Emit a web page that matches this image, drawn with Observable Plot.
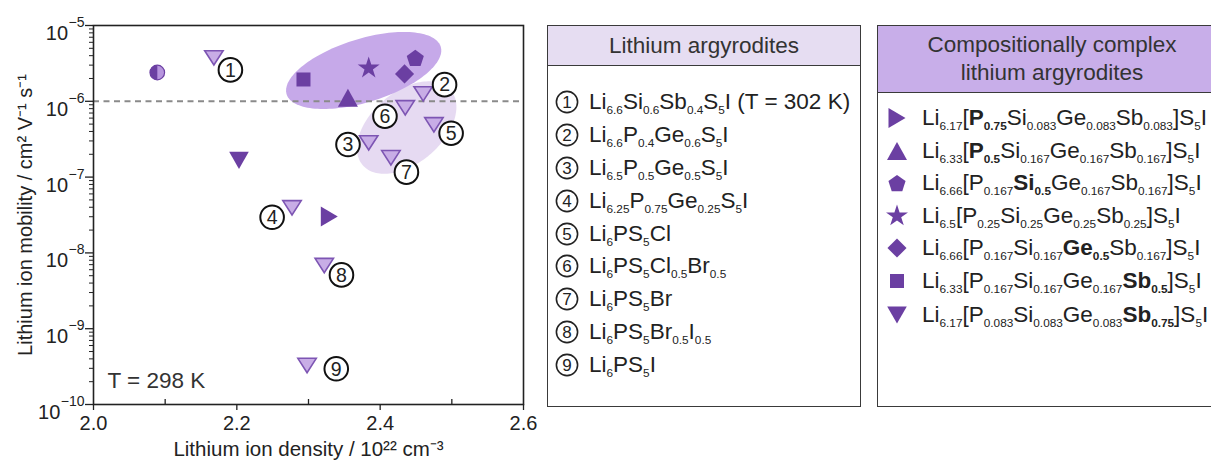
<!DOCTYPE html>
<html><head><meta charset="utf-8">
<script src="https://cdn.jsdelivr.net/npm/d3@7"></script>
<script src="https://cdn.jsdelivr.net/npm/@observablehq/plot@0.6"></script>
<style>
html,body{margin:0;padding:0;background:#fff;}
#wrap{position:relative;width:1211px;height:466px;overflow:hidden;font-family:"Liberation Sans",Arial,sans-serif;color:#222;}
#chart{position:absolute;left:0;top:0;}
.box{position:absolute;border:1.5px solid #3a3a3a;box-sizing:border-box;background:#fff;}
.hdr{position:absolute;box-sizing:border-box;border:1.5px solid #3a3a3a;display:flex;align-items:center;justify-content:center;text-align:center;font-size:22.5px;color:#333;line-height:28px;}
.row{position:absolute;white-space:nowrap;font-size:22.5px;line-height:26px;height:26px;color:#222;}
.row sub{font-size:11.8px;vertical-align:baseline;position:relative;top:5px;line-height:0;}
.sym{position:absolute;overflow:visible;}
</style></head>
<body><div id="wrap"><div id="chart"></div></div>
<script>
// ---------- data ----------
const argyroditeNumbers = [1,2,3,4,5,6,7,8,9];
const argyroditeDensity = [2.168, 2.460, 2.384, 2.277, 2.475, 2.435, 2.415, 2.322, 2.298];
const argyroditeMobility = [3.74e-6, 1.25e-6, 2.83e-7, 3.93e-8, 4.9e-7, 8.2e-7, 1.8e-7, 6.8e-9, 3.27e-10];
const argyroditeNames = [
  "Li_{6.6}Si_{0.6}Sb_{0.4}S_{5}I (T = 302 K)",
  "Li_{6.6}P_{0.4}Ge_{0.6}S_{5}I",
  "Li_{6.5}P_{0.5}Ge_{0.5}S_{5}I",
  "Li_{6.25}P_{0.75}Ge_{0.25}S_{5}I",
  "Li_{6}PS_{5}Cl",
  "Li_{6}PS_{5}Cl_{0.5}Br_{0.5}",
  "Li_{6}PS_{5}Br",
  "Li_{6}PS_{5}Br_{0.5}I_{0.5}",
  "Li_{6}PS_{5}I"
];

const complexShapes = ["triRight","triUp","pentagon","star","diamond","square","triDown"];
const complexDensity = [2.329, 2.355, 2.449, 2.384, 2.434, 2.293, 2.203];
const complexMobility = [3.02e-8, 1.11e-6, 3.74e-6, 2.74e-6, 2.30e-6, 1.94e-6, 1.66e-7];
const complexNames = [
  "Li_{6.17}[*P_{0.75}*Si_{0.083}Ge_{0.083}Sb_{0.083}]S_{5}I",
  "Li_{6.33}[*P_{0.5}*Si_{0.167}Ge_{0.167}Sb_{0.167}]S_{5}I",
  "Li_{6.66}[P_{0.167}*Si_{0.5}*Ge_{0.167}Sb_{0.167}]S_{5}I",
  "Li_{6.5}[P_{0.25}Si_{0.25}Ge_{0.25}Sb_{0.25}]S_{5}I",
  "Li_{6.66}[P_{0.167}Si_{0.167}*Ge_{0.5}*Sb_{0.167}]S_{5}I",
  "Li_{6.33}[P_{0.167}Si_{0.167}Ge_{0.167}*Sb_{0.5}*]S_{5}I",
  "Li_{6.17}[P_{0.083}Si_{0.083}Ge_{0.083}*Sb_{0.75}*]S_{5}I"
];

const halfPointDensity = [2.089];
const halfPointMobility = [2.4e-6];

const referenceMobility = [1e-6];
const xTicks = [2.0, 2.2, 2.4, 2.6];
const xMinorTicks = [2.1, 2.3, 2.5];
const yTicks = [1e-10, 1e-9, 1e-8, 1e-7, 1e-6, 1e-5];

// ellipse regions: centre (density, mobility), semi-axes in units of (0.1 density, 1 decade), tilt in degrees
const regions = [
  {name: "conventional", cx: 2.437, cy: 4.5e-7, a: 0.79, b: 0.48, angle: 37},
  {name: "complex", cx: 2.377, cy: 2.55e-6, a: 1.12, b: 0.42, angle: 16}
];

const xTitle = "Lithium ion density / 10²² cm⁻³";
const yTitle = "Lithium ion mobility / cm² V⁻¹ s⁻¹";
const tempNote = "T = 298 K";
const legend1Title = "Lithium argyrodites";
const legend2Title = ["Compositionally complex", "lithium argyrodites"];

// ---------- styles ----------
const DARK = "#6b3fa2";
const LIGHT_FILL = "#c8ade6";
const LIGHT_STROKE = "#7d55b3";
const regionColors = {conventional: "#e6daf2", complex: "#c6a9e9"};
const labelOffsets = [[16.5,12],[21.4,-9.3],[-20.7,1.7],[-19.9,9.4],[17.2,8.4],[-20.3,8.4],[15.5,14.4],[17.2,9.3],[29.2,3.3]];

// ---------- symbols ----------
const R = s => Math.sqrt(s / Math.PI);
const symbols = {
  triDown: {draw(c, s){const r=R(s); c.moveTo(-r,-0.78*r); c.lineTo(r,-0.78*r); c.lineTo(0,0.78*r); c.closePath();}},
  triDownBig: {draw(c, s){const r=R(s); c.moveTo(-r,-0.88*r); c.lineTo(r,-0.88*r); c.lineTo(0,0.88*r); c.closePath();}},
  triUp: {draw(c, s){const r=R(s); c.moveTo(-r,0.9*r); c.lineTo(r,0.9*r); c.lineTo(0,-0.9*r); c.closePath();}},
  triRight: {draw(c, s){const r=R(s); c.moveTo(-0.85*r,-r); c.lineTo(-0.85*r,r); c.lineTo(0.85*r,0); c.closePath();}},
  pentagon: {draw(c, s){const r=R(s); for(let i=0;i<5;i++){const t=(-90+72*i)*Math.PI/180; const px=r*Math.cos(t), py=r*Math.sin(t)+0.1*r; i?c.lineTo(px,py):c.moveTo(px,py);} c.closePath();}},
  halfLeft: {draw(c, s){const r=R(s); c.moveTo(0,-r); c.arc(0,0,r,-Math.PI/2,Math.PI/2,true); c.closePath();}}
};
const shapeR = {triRight: 10, triUp: 10, pentagon: 9, star: 6.9, diamond: 8.6, square: 7.9, triDown: 9.8};
const shapeSym = {triRight: symbols.triRight, triUp: symbols.triUp, pentagon: symbols.pentagon, star: "star", diamond: "diamond2", square: "square", triDown: symbols.triDownBig};

// ---------- build tables ----------
const argyrodites = argyroditeNumbers.map((n,i) => ({n, x: argyroditeDensity[i], y: argyroditeMobility[i]}));
const complexPts = complexShapes.map((s,i) => ({shape: s, x: complexDensity[i], y: complexMobility[i]}));
const halfPts = halfPointDensity.map((x,i) => ({x, y: halfPointMobility[i]}));

function ellipsePts(e){
  const pts = []; const th = e.angle*Math.PI/180;
  for (let i=0;i<=144;i++){
    const t = i/144*2*Math.PI;
    const u = e.a*Math.cos(t)*Math.cos(th) - e.b*Math.sin(t)*Math.sin(th);
    const v = e.a*Math.cos(t)*Math.sin(th) + e.b*Math.sin(t)*Math.cos(th);
    pts.push({x: e.cx + u*0.1, y: e.cy*Math.pow(10, v)});
  }
  return pts;
}

const yMinor = [];
for (let e=-10; e<-5; e++) for (let k=2;k<=9;k++) yMinor.push(k*Math.pow(10,e));

const expText = d => "−" + Math.round(-Math.log10(d));
const oneDigit = yTicks.filter(d => expText(d).length === 2);
const twoDigit = yTicks.filter(d => expText(d).length === 3);
const EXP_FS = 14, BASE_FS = 20;
const expW = n => EXP_FS*(0.584 + 0.556*n);

const marks = [
  ...regions.map(e => Plot.line(ellipsePts(e), {x: "x", y: "y", fill: regionColors[e.name], stroke: "none", curve: "linear"})),
  Plot.ruleY(referenceMobility, {stroke: "#8a8a8a", strokeWidth: 2, strokeDasharray: "6,4.5"}),
  Plot.frame({stroke: "#222", strokeWidth: 1.6}),
  Plot.axisY({ticks: yMinor, tickSize: 4, tickFormat: () => "", label: null, stroke: "#222"}),
  Plot.axisY({ticks: yTicks, tickSize: 8, tickFormat: () => "", label: null, stroke: "#222", strokeWidth: 1.3}),
  Plot.text(yTicks, {y: d => d, text: expText, frameAnchor: "left", dx: -9, dy: -3, textAnchor: "end", fontSize: EXP_FS, fill: "#222"}),
  Plot.text(oneDigit, {y: d => d, text: () => "10", frameAnchor: "left", dx: -9 - expW(1) - 0.5, dy: 8, textAnchor: "end", fontSize: BASE_FS, fill: "#222"}),
  Plot.text(twoDigit, {y: d => d, text: () => "10", frameAnchor: "left", dx: -9 - expW(2) - 0.5, dy: 8, textAnchor: "end", fontSize: BASE_FS, fill: "#222"}),
  Plot.axisX({ticks: xTicks, tickSize: 6, tickPadding: 5, fontSize: 20, tickFormat: d => d.toFixed(1), label: null, stroke: "#222", strokeWidth: 1.3, fill: "#222"}),
  Plot.tickX(xMinorTicks, {x: d => d, insetTop: 379 - 5, stroke: "#222", strokeWidth: 1.3}),
  Plot.text([xTitle], {frameAnchor: "bottom", dy: 51, fontSize: 20.5, fill: "#222", textAnchor: "middle"}),
  Plot.text([yTitle], {frameAnchor: "left", dx: -68, rotate: -90, fontSize: 20, fill: "#222", textAnchor: "middle"}),
  Plot.text([tempNote], {frameAnchor: "bottom-left", dx: 14, dy: -17, textAnchor: "start", fontSize: 22.5, fill: "#333"}),
  // half-filled circle
  Plot.dot(halfPts, {x: "x", y: "y", r: 7.3, fill: "#b795de", stroke: DARK, strokeWidth: 1.2}),
  Plot.dot(halfPts, {x: "x", y: "y", r: 7.3, symbol: symbols.halfLeft, fill: DARK, stroke: "none"}),
  // conventional argyrodites
  Plot.dot(argyrodites, {x: "x", y: "y", r: 9.2, symbol: symbols.triDown, fill: LIGHT_FILL, stroke: LIGHT_STROKE, strokeWidth: 1.6}),
  // compositionally complex
  ...complexShapes.map(s => Plot.dot(complexPts.filter(d => d.shape === s), {x: "x", y: "y", r: shapeR[s], symbol: shapeSym[s], fill: DARK, stroke: "none"})),
  // circled labels
  ...argyrodites.map((d,i) => Plot.dot([d], {x: "x", y: "y", r: 11.8, fill: "white", stroke: "#111", strokeWidth: 2, dx: labelOffsets[i][0], dy: labelOffsets[i][1]})),
  ...argyrodites.map((d,i) => Plot.text([d], {x: "x", y: "y", text: "n", fontSize: 19.5, fill: "#222", dx: labelOffsets[i][0], dy: labelOffsets[i][1] + 0.5}))
];

const plot = Plot.plot({
  width: 540, height: 466,
  marginLeft: 93, marginRight: 17, marginTop: 25, marginBottom: 62,
  style: {fontFamily: "'Liberation Sans', Arial, sans-serif", background: "transparent", color: "#222", overflow: "visible"},
  x: {domain: [2.0, 2.6], label: null},
  y: {type: "log", domain: [1e-10, 1e-5], label: null},
  marks
});
document.getElementById("chart").append(plot);

// ---------- legends ----------
const wrap = document.getElementById("wrap");
const ns = "http://www.w3.org/2000/svg";
const fmt = s => s.replace(/\*(.*?)\*/g, "<b>$1</b>").replace(/_\{(.*?)\}/g, "<sub>$1</sub>");
function el(cls, css, html){const d=document.createElement("div"); d.className=cls; Object.assign(d.style, css); if(html!=null) d.innerHTML=html; wrap.append(d); return d;}
function svgEl(tag, attrs){const e=document.createElementNS(ns, tag); for (const k in attrs) e.setAttribute(k, attrs[k]); return e;}

// box 1
el("box", {left: "547px", top: "25px", width: "314px", height: "382px"});
el("hdr", {left: "547px", top: "25px", width: "314px", height: "41px", background: "#e6ddf2"}, legend1Title);
argyroditeNames.forEach((name,i) => {
  const cy = 101.7 + i*32.95;
  const svg = svgEl("svg", {width: 26, height: 26, class: "sym"});
  svg.style.left = (566.5-13)+"px"; svg.style.top = (cy-13)+"px";
  svg.append(svgEl("circle", {cx: 13, cy: 13, r: 10.6, fill: "none", stroke: "#222", "stroke-width": 1.6}));
  const t = svgEl("text", {x: 13, y: 13, "text-anchor": "middle", dy: "0.36em", "font-size": 17, fill: "#222", "font-family": "'Liberation Sans', Arial, sans-serif"});
  t.textContent = String(argyroditeNumbers[i]);
  svg.append(t); wrap.append(svg);
  el("row", {left: "589px", top: (cy-13)+"px"}, fmt(name));
});

// box 2
el("box", {left: "877px", top: "25px", width: "350px", height: "382px"});
el("hdr", {left: "877px", top: "25px", width: "350px", height: "68px", background: "#c8aee9"}, legend2Title.join("<br>"));
complexNames.forEach((name,i) => {
  const cy = 118.3 + i*32.5 + (i===6 ? 2 : 0);
  const s = complexShapes[i];
  const svg = svgEl("svg", {width: 26, height: 26, class: "sym"});
  svg.style.left = (897-13)+"px"; svg.style.top = (cy-13)+"px";
  const sym = shapeSym[s];
  const type = typeof sym === "string" ? {star: d3.symbolStar, square: d3.symbolSquare, diamond2: d3.symbolDiamond2}[sym] : sym;
  svg.append(svgEl("path", {d: d3.symbol(type, shapeR[s]*shapeR[s]*Math.PI)(), transform: "translate(13,13)", fill: DARK}));
  wrap.append(svg);
  el("row", {left: "922px", top: (cy-13)+"px"}, fmt(name));
});
</script></body></html>
